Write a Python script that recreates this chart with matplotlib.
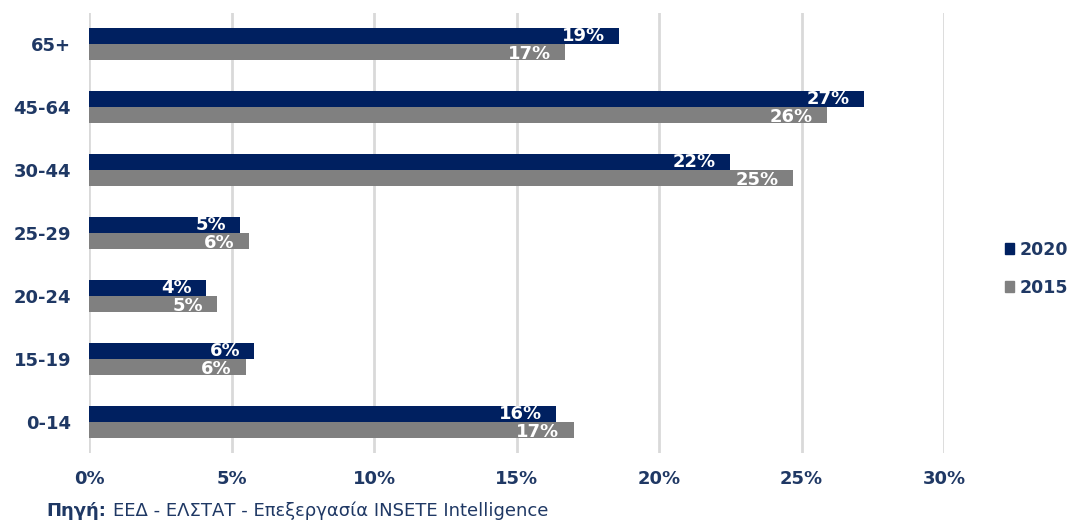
import matplotlib.pyplot as plt
from matplotlib.patches import Patch

plt.rcParams['font.family'] = ['DejaVu Sans']

groups = ['0-14', '15-19', '20-24', '25-29', '30-44', '45-64', '65+']
y2020 = [16.4, 5.8, 4.1, 5.3, 22.5, 27.2, 18.6]
y2015 = [17.0, 5.5, 4.5, 5.6, 24.7, 25.9, 16.7]
lab2020 = ['16%', '6%', '4%', '5%', '22%', '27%', '19%']
lab2015 = ['17%', '6%', '5%', '6%', '25%', '26%', '17%']
xticks = [0, 5, 10, 15, 20, 25, 30]

navy = '#002060'
gray = '#808080'
txt = '#1F3864'

fig = plt.figure(figsize=(10.78, 5.27), dpi=100)
ax = fig.add_axes([0.0826, 0.1395, 0.7931, 0.8365])

h = 0.254
pos = list(range(len(groups)))
ax.barh([p + h / 2 for p in pos], y2020, height=h, color=navy, zorder=3)
ax.barh([p - h / 2 for p in pos], y2015, height=h, color=gray, zorder=3)

for p, v, s in zip(pos, y2020, lab2020):
    ax.text(v - 0.5, p + h / 2, s, ha='right', va='center', color='white',
            fontsize=13, fontweight='bold', zorder=4)
for p, v, s in zip(pos, y2015, lab2015):
    ax.text(v - 0.5, p - h / 2 - 0.03, s, ha='right', va='center', color='white',
            fontsize=13, fontweight='bold', zorder=4)

ax.set_xlim(0, 30)
ax.set_ylim(-0.5, 6.5)
ax.set_yticks(pos)
ax.set_yticklabels(groups)
ax.set_xticks(xticks)
ax.set_xticklabels([f'{t}%' for t in xticks])
for lbl in ax.get_xticklabels() + ax.get_yticklabels():
    lbl.set_color(txt)
    lbl.set_fontweight('bold')
    lbl.set_fontsize(13)
ax.tick_params(length=0)
ax.tick_params(axis='x', pad=12)
ax.tick_params(axis='y', pad=13)
ax.grid(axis='x', color='#D9D9D9', linewidth=2, zorder=0)
for sp in ax.spines.values():
    sp.set_visible(False)

handles = [Patch(color=navy, label='2020'), Patch(color=gray, label='2015')]
leg = fig.legend(handles=handles, loc='center left', bbox_to_anchor=(0.932, 0.49),
                 frameon=False, borderpad=0, borderaxespad=0,
                 handlelength=0.55, handleheight=0.55, handletextpad=0.3,
                 labelspacing=1.15, prop={'weight': 'bold', 'size': 12.5})
for t in leg.get_texts():
    t.set_color(txt)

fig.text(0.043, 0.02, 'Πηγή:', color=txt, fontsize=13, fontweight='bold')
fig.text(0.105, 0.02, 'ΕΕΔ - ΕΛΣΤΑΤ - Επεξεργασία INSETE Intelligence', color=txt, fontsize=13)

fig.savefig('out.png', dpi=100)
